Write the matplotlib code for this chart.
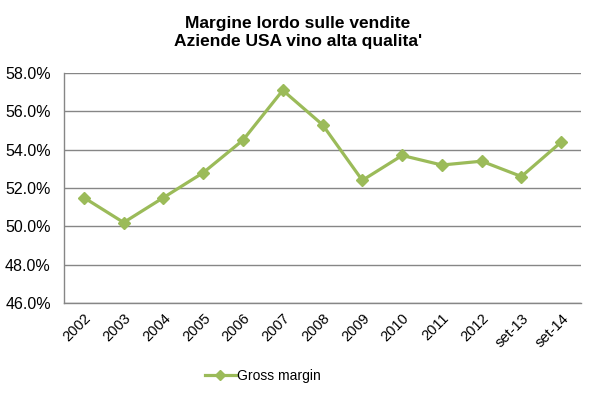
import matplotlib
matplotlib.use("Agg")
import matplotlib.pyplot as plt
import numpy as np
from matplotlib.ticker import FuncFormatter

# data
categories = ['2002', '2003', '2004', '2005', '2006', '2007', '2008',
              '2009', '2010', '2011', '2012', 'set-13', 'set-14']
gross_margin = [51.5, 50.2, 51.5, 52.8, 54.5, 57.1, 55.3,
                52.4, 53.7, 53.2, 53.4, 52.6, 54.4]
yticks = [46, 48, 50, 52, 54, 56, 58]

plain = ['Liberation Sans', 'DejaVu Sans']
plt.rcParams['font.family'] = plain
green = '#9BBB59'
grid = '#868686'

fig = plt.figure(figsize=(5.96, 3.97), dpi=100)
ax = fig.add_axes([0.1074, 0.2368, 0.8676, 0.5792])

x = np.arange(len(categories))
ax.plot(x, gross_margin, color=green, lw=2.3, marker='D', markersize=6,
        markeredgecolor=green, label='Gross margin', zorder=3)

ax.set_xlim(-0.5, len(categories) - 0.5)
ax.set_ylim(46, 58)
ax.set_yticks(yticks)
ax.yaxis.set_major_formatter(FuncFormatter(lambda v, p: '%.1f%%' % v))
ax.yaxis.grid(True, color=grid, lw=1)
ax.set_axisbelow(True)
ax.tick_params(axis='y', length=0, pad=9.5, labelsize=11.5)

ax.set_xticks(x)
ax.set_xticklabels(categories, rotation=45, ha='right', rotation_mode='anchor',
                   fontsize=10.5)
ax.tick_params(axis='x', length=0, pad=6)

for s in ['top', 'right']:
    ax.spines[s].set_visible(False)
for s in ['left', 'bottom']:
    ax.spines[s].set_color(grid)
    ax.spines[s].set_linewidth(1)

fig.text(0.5, 0.917, "Margine lordo sulle vendite\nAziende USA vino alta qualita'",
         ha='center', va='center', fontsize=12.5, fontweight='bold',
         linespacing=1.25)

leg = fig.legend(loc='center', bbox_to_anchor=(0.441, 0.053), frameon=False,
                 prop={'size': 10}, handlelength=2.2,
                 handletextpad=0.1, markerscale=0.8)

fig.savefig('out.png', dpi=100)
